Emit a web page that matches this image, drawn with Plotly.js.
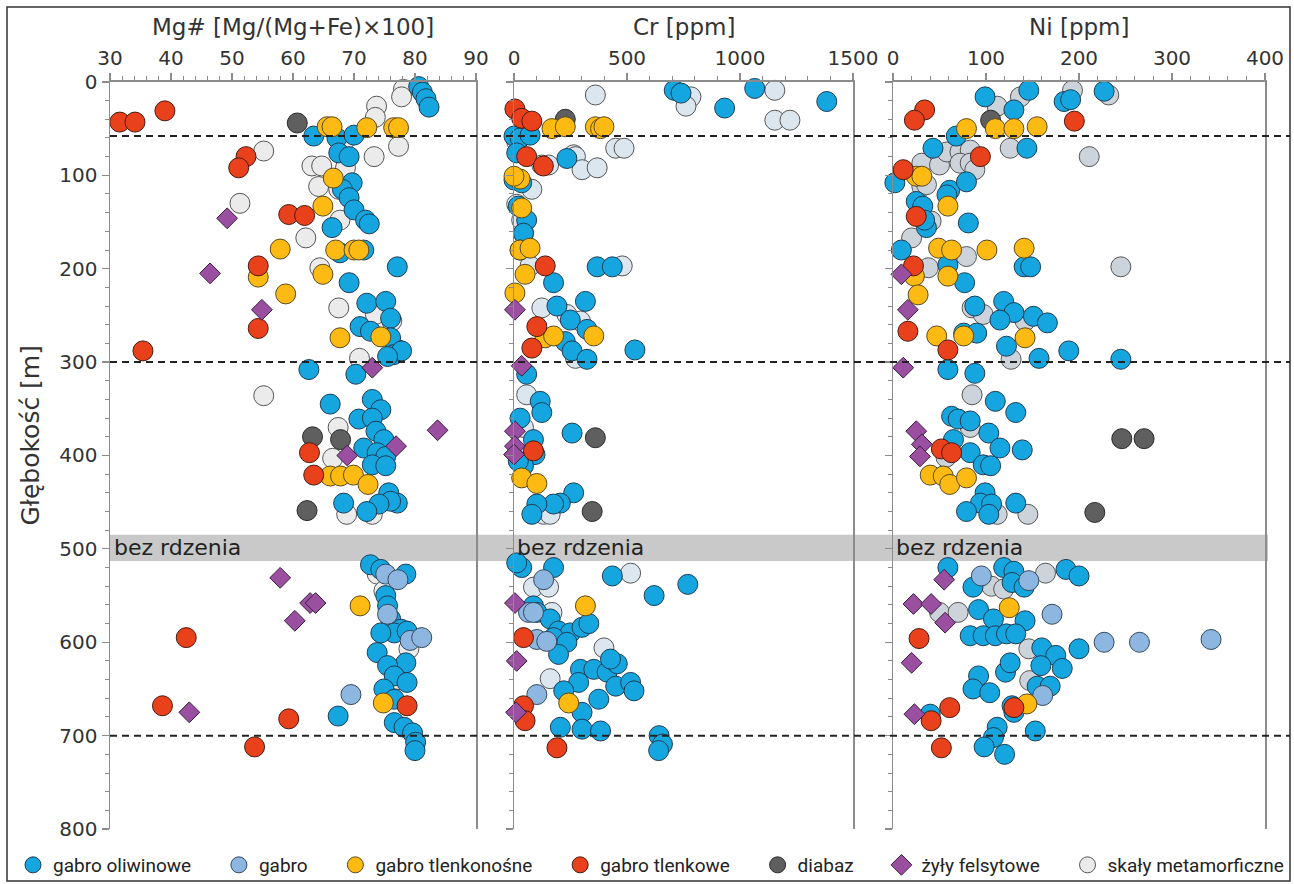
<!DOCTYPE html>
<html>
<head>
<meta charset="utf-8">
<script src="https://cdn.plot.ly/plotly-3.0.1.min.js"></script>
<style>html,body{margin:0;padding:0;background:#fff;}#chart{width:1294px;height:884px;}</style>
</head>
<body>
<div id="chart"></div>
<script>
// ---------- DATA: [value, depth m] ----------
// Panel 1: Mg# [Mg/(Mg+Fe)x100]
const mgOliv = [[80.6,5],[81.2,11],[81.8,18],[82.3,27],[63.4,58],[67.2,60],[70,57],[67.5,76],[69.2,80],
 [69.7,108],[68.1,115],[69.2,124],[70,137],[71.9,148],[72.5,152],[66.4,156],[67.7,183],[71.6,180],[77.1,198],
 [69.2,215],[72.1,237],[75.2,235],[76,253],[71,262],[72.7,267],[77.3,287],[76,274],[76.5,292],[77.8,288],[75.5,294],
 [62.6,308],[70.3,313],[66.1,345],[73,340],[74.4,351],[70.8,361],[73,360],[73.6,374],[74.9,383],[71.6,392],
 [73.8,397],[75.2,401],[73,410],[75.2,411],[75.7,440],[77.1,451],[76,449],[74.1,452],[68.3,451],[72.1,460],
 [72.7,517],[74.4,522],[78.5,527],[75.2,550],[75.5,561],[76,575],[77.7,586],[76.6,590],[74.4,590],[78.7,588],
 [73.8,611],[78.5,622],[75.5,625],[76.6,636],[78.7,643],[74.9,650],[76.6,661],[67.4,679],[76.6,686],[78.2,691],
 [79.6,697],[80.1,707],[80,716]];
const mgGabro = [[75.2,527],[77.2,533],[75.5,570],[79.2,598],[81.1,595],[69.5,656]];
const mgTlenkonosne = [[65.6,48],[66.4,48],[72.1,49],[76.5,49],[77.3,49],[66.6,103],[64.9,133],[57.9,179],[67,180],
 [70,180],[70.8,180],[54.3,209],[64.9,206],[58.8,227],[67.7,274],[74.4,273],[66.1,422],[67.8,422],[69.9,421],
 [72.3,431],[71,561],[74.8,665]];
const mgTlenkowe = [[31.6,43],[34.1,43],[39,31],[52.3,80],[51.1,92],[59.3,142],[61.9,143],[54.3,197],[54.3,264],
 [35.4,288],[62.7,397],[63.4,421],[42.5,595],[38.6,668],[59.3,682],[78.7,668],[53.7,712]];
const mgDiabaz = [[60.7,44],[63.2,380],[67.8,383],[62.3,459]];
const mgFelsyt = [[49.2,146],[46.4,205],[54.9,244],[73,306],[83.7,373],[76.9,390],[68.9,400],[57.9,531],
 [62.8,558],[63.7,558],[60.3,577],[43,675]];
const mgMeta = [[78.1,8],[77.8,16],[73.7,26],[73.5,38],[68.3,64],[77.3,69],[73.3,80],[55.2,74],[63.1,90],[64.7,90],
 [68.6,92],[64.2,112],[67.5,115],[51.3,130],[67.7,148],[62.1,167],[64.4,199],[67.5,242],[73.5,249],[76.2,256],
 [70.9,296],[55.2,336],[67.4,370],[66.5,403],[68.8,463],[73,463],[73.8,527],[74.9,545],[79,607],[77.4,640]];

// Panel 2: Cr [ppm]
const crOliv = [[709,9],[739,12],[932,28],[1065,7],[1384,21],[0,58],[27,60],[71,57],[12,76],[234,82],[0,105],
 [34,108],[19,133],[56,148],[42,162],[27,180],[368,198],[435,198],[175,215],[316,235],[190,240],[249,255],
 [323,265],[227,278],[257,288],[535,287],[323,297],[56,313],[116,342],[123,354],[27,360],[86,383],[257,376],
 [93,399],[42,411],[19,406],[264,440],[205,451],[175,452],[101,452],[79,463],[34,520],[12,515],[175,520],
 [435,529],[620,550],[769,538],[86,561],[101,568],[160,575],[197,588],[249,590],[301,584],[331,580],[175,595],
 [234,600],[197,613],[294,629],[353,629],[412,632],[457,623],[427,618],[286,643],[450,647],[516,643],[531,652],
 [375,661],[220,652],[301,675],[205,691],[301,693],[383,695],[642,700],[657,709],[640,716]];
const crGabro = [[131,533],[64,568],[86,568],[101,597],[145,599],[101,656]];
const crTlenkonosne = [[168,50],[227,48],[360,48],[383,50],[398,48],[27,104],[0,101],[34,135],[27,180],[71,178],
 [49,206],[4,226],[138,274],[175,272],[353,272],[34,424],[101,430],[316,561],[242,665]];
const crTlenkowe = [[4,29],[34,39],[79,42],[56,80],[130,90],[138,197],[101,262],[79,285],[86,395],[42,595],
 [42,668],[49,684],[190,713]];
const crDiabaz = [[227,40],[360,381],[346,460]];
const crFelsyt = [[4,244],[34,304],[4,374],[4,390],[0,399],[4,558],[12,620],[9,675]];
const crMeta = [[360,14],[783,16],[761,26],[1154,9],[1154,41],[1221,41],[12,64],[450,71],[487,71],[264,78],
 [272,80],[123,89],[153,89],[301,94],[368,92],[79,115],[12,131],[34,148],[42,162],[71,197],[479,197],[123,242],
 [234,249],[294,256],[272,296],[56,335],[42,370],[42,402],[131,463],[160,463],[516,526],[86,541],[153,541],
 [168,568],[398,606],[160,639]];

// Panel 3: Ni [ppm]
const niOliv = [[99,16],[146,9],[130,30],[184,21],[191,19],[227,10],[68,58],[144,71],[43,71],[2,108],[25,128],
 [32,133],[61,116],[58,121],[79,107],[36,156],[34,148],[81,151],[9,180],[141,198],[148,198],[59,196],[77,215],
 [119,235],[88,240],[130,247],[115,255],[151,251],[166,258],[76,269],[90,269],[122,283],[157,296],[189,288],
 [245,297],[59,308],[88,312],[110,342],[132,354],[63,358],[70,361],[83,363],[103,376],[115,392],[139,394],
 [65,383],[83,397],[97,410],[105,411],[99,440],[94,451],[106,452],[132,451],[79,460],[103,463],[59,520],
 [119,520],[130,524],[186,522],[200,529],[86,541],[128,536],[141,541],[92,565],[108,575],[142,577],[83,593],
 [97,593],[110,593],[122,591],[132,591],[160,606],[200,607],[175,614],[182,628],[159,625],[121,632],[126,622],
 [92,636],[86,650],[104,654],[155,647],[169,647],[130,675],[128,668],[112,691],[108,702],[153,695],[40,677],
 [98,712],[120,720]];
const niGabro = [[95,529],[146,534],[171,570],[227,600],[265,600],[342,597],[161,657]];
const niTlenkonosne = [[79,50],[110,50],[130,50],[155,48],[25,101],[31,101],[59,133],[49,178],[63,180],[101,180],
 [141,178],[23,208],[59,208],[27,228],[47,272],[76,272],[142,274],[40,421],[54,422],[61,431],[79,424],[125,563],
 [144,666]];
const niTlenkowe = [[34,30],[23,41],[195,42],[94,80],[11,94],[25,144],[22,197],[16,267],[59,287],[52,393],[63,397],
 [28,596],[61,670],[41,684],[130,670],[52,713]];
const niDiabaz = [[105,41],[246,382],[270,382],[217,461]];
const niFelsyt = [[9,206],[16,244],[11,306],[25,374],[31,388],[29,401],[55,533],[22,559],[41,559],[56,579],
 [20,622],[23,677]];
const niMeta = [[193,9],[232,14],[137,16],[112,26],[126,71],[211,80],[31,87],[50,89],[58,75],[72,75],[83,73],
 [72,87],[83,87],[88,94],[31,112],[36,110],[41,149],[20,167],[79,187],[38,199],[245,198],[85,242],[97,249],
 [142,256],[127,297],[85,335],[83,370],[57,402],[112,463],[145,463],[164,526],[106,540],[119,543],[50,568],
 [70,568],[146,607],[147,641]];

const seriesNames = ['gabro oliwinowe','gabro','gabro tlenkonośne','gabro tlenkowe','diabaz','żyły felsytowe','skały metamorficzne'];
const panelTitles = ['Mg# [Mg/(Mg+Fe)×100]','Cr [ppm]','Ni [ppm]'];
const markerDepths = [58, 300, 700];   // dashed reference lines
const noCoreDepth = [485, 513];         // "bez rdzenia" interval
const noCoreLabel = 'bez rdzenia';

// ---------- STYLE ----------
const W = 1294, H = 884;
const px = v => v / W, py = v => 1 - v / H;
const STYLE = {
  'gabro oliwinowe':     {symbol:'circle',  color:'#15a6df', line:'#1d3d55', rank:1},
  'gabro':               {symbol:'circle',  color:'#8db7e0', line:'#33495e', rank:2},
  'gabro tlenkonośne':   {symbol:'circle',  color:'#fdba12', line:'#5a4a20', rank:3},
  'gabro tlenkowe':      {symbol:'circle',  color:'#ea411d', line:'#4a1a10', rank:4},
  'diabaz':              {symbol:'circle',  color:'#5f5f5f', line:'#2a2a2a', rank:5},
  'żyły felsytowe':      {symbol:'diamond', color:'#9a4fa0', line:'#3a1e40', rank:6},
  'skały metamorficzne': {symbol:'circle',  color:'#ebebeb', line:'#555555', rank:7}
};
const metaColors = ['#ebebeb','#dbe6ef','#cdd3da'];
const legendPad = '\u00a0\u00a0\u00a0\u00a0\u2009';

const panels = [
  {ax:'', data:{'gabro oliwinowe':mgOliv,'gabro':mgGabro,'gabro tlenkonośne':mgTlenkonosne,'gabro tlenkowe':mgTlenkowe,'diabaz':mgDiabaz,'żyły felsytowe':mgFelsyt,'skały metamorficzne':mgMeta}},
  {ax:'2', data:{'gabro oliwinowe':crOliv,'gabro':crGabro,'gabro tlenkonośne':crTlenkonosne,'gabro tlenkowe':crTlenkowe,'diabaz':crDiabaz,'żyły felsytowe':crFelsyt,'skały metamorficzne':crMeta}},
  {ax:'3', data:{'gabro oliwinowe':niOliv,'gabro':niGabro,'gabro tlenkonośne':niTlenkonosne,'gabro tlenkowe':niTlenkowe,'diabaz':niDiabaz,'żyły felsytowe':niFelsyt,'skały metamorficzne':niMeta}}
];
const drawOrder = ['skały metamorficzne','gabro oliwinowe','gabro','diabaz','gabro tlenkonośne','gabro tlenkowe','żyły felsytowe'];

const traces = [];
panels.forEach((p, pi) => {
  drawOrder.forEach(name => {
    const s = STYLE[name];
    const pts = p.data[name];
    const last = s.rank === seriesNames.length;
    traces.push({
      type:'scatter', mode:'markers', name: last ? name : name + legendPad, legendgroup:name, legendrank:s.rank,
      showlegend: pi === 0, cliponaxis:false, hoverinfo:'x+y+name',
      x: pts.map(d => d[0]), y: pts.map(d => d[1]),
      xaxis:'x'+p.ax, yaxis:'y'+p.ax,
      marker:{symbol:s.symbol, size: s.symbol === 'diamond' ? 16 : 20,
        color: name === 'skały metamorficzne' ? metaColors[pi] : s.color,
        line:{color:s.line, width:1}, opacity:1}
    });
  });
});

const AX = '#8c8c8c';
const tickfont = {family:'DejaVu Sans, Verdana, sans-serif', size:20, color:'#333'};
function xax(dom, range, dtick, minor, anchor){
  return {domain:[px(dom[0]), px(dom[1])], range:range, side:'top', anchor:anchor, dtick:dtick, tick0:0,
    ticks:'outside', ticklen:7, tickwidth:1.2, tickcolor:AX, showline:true, linecolor:AX, linewidth:1.5,
    showgrid:false, zeroline:false, tickfont:tickfont, fixedrange:true,
    minor:{dtick:minor, ticks:'outside', ticklen:4, tickcolor:AX, tickwidth:1, showgrid:false}};
}
function yax(anchor, labels){
  return {domain:[py(830), py(82)], range:[800,0], anchor:anchor, dtick:100, tick0:0,
    ticks:'outside', ticklen:7, tickwidth:1.2, tickcolor:AX, showline:true, linecolor:AX, linewidth:1.5,
    mirror:true, showgrid:false, zeroline:false, showticklabels:labels, tickfont:tickfont, fixedrange:true,
    minor:{dtick:20, ticks:'outside', ticklen:4, tickcolor:AX, tickwidth:1, showgrid:false}};
}

const shapes = [];
// frame
shapes.push({type:'rect', xref:'paper', yref:'paper', x0:px(7), x1:px(1290), y0:py(882), y1:py(7),
  line:{color:'#333', width:1.5}, fillcolor:'rgba(0,0,0,0)', layer:'below'});
// no-core band
shapes.push({type:'rect', xref:'paper', yref:'y', x0:px(110), x1:px(1268), y0:noCoreDepth[0], y1:noCoreDepth[1],
  fillcolor:'#c8c9c8', line:{width:0}, layer:'below'});
markerDepths.forEach(d => shapes.push({type:'line', xref:'paper', yref:'y', x0:px(110), x1:px(1290), y0:d, y1:d,
  line:{color:'#222', width:2, dash:'7px,5px'}, layer:'above'}));

const annotations = [];
const titleX = [293, 683.5, 1079];
panelTitles.forEach((t, i) => annotations.push({text:t, xref:'paper', yref:'paper', x:px(titleX[i]), y:py(27),
  xanchor:'center', yanchor:'middle', showarrow:false,
  font:{family:'DejaVu Sans, Verdana, sans-serif', size:23, color:'#333'}}));
[112, 515, 894].forEach(x => annotations.push({text:noCoreLabel, xref:'paper', yref:'y', x:px(x),
  y:(noCoreDepth[0]+noCoreDepth[1])/2, xanchor:'left', yanchor:'middle', showarrow:false,
  font:{family:'DejaVu Sans, Verdana, sans-serif', size:22, color:'#222'}}));
annotations.push({text:'Głębokość [m]', xref:'paper', yref:'paper', x:px(31), y:py(436), textangle:-90,
  xanchor:'center', yanchor:'middle', showarrow:false,
  font:{family:'DejaVu Sans, Verdana, sans-serif', size:25, color:'#333'}});

const layout = {
  width:W, height:H, margin:{l:0, r:0, t:0, b:0}, paper_bgcolor:'#fff', plot_bgcolor:'rgba(0,0,0,0)',
  showlegend:true, hovermode:'closest',
  xaxis: xax([110,476], [30,90], 10, 2, 'y'),
  xaxis2: xax([514,853], [0,1500], 500, 100, 'y2'),
  xaxis3: xax([893,1265], [0,400], 100, 20, 'y3'),
  yaxis: yax('x', true),
  yaxis2: Object.assign(yax('x2', false), {matches:'y'}),
  yaxis3: Object.assign(yax('x3', false), {matches:'y'}),
  legend:{orientation:'h', x:px(13), y:py(866), xanchor:'left', yanchor:'middle', bgcolor:'rgba(0,0,0,0)',
    font:{family:'Roboto, sans-serif', size:19, color:'#222'},
    itemsizing:'trace', tracegroupgap:0, itemwidth:30},
  shapes:shapes, annotations:annotations
};
Plotly.newPlot('chart', traces, layout, {displayModeBar:false, staticPlot:true});
</script>
</body>
</html>
